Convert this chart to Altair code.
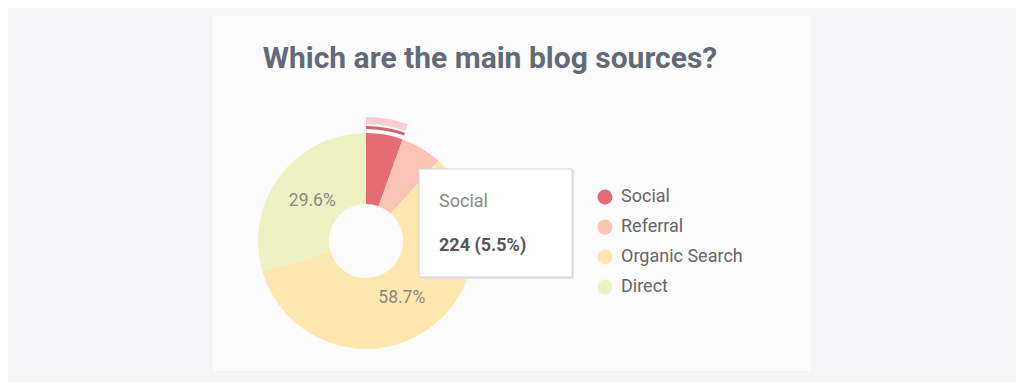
import altair as alt
import pandas as pd

# ---- data ----
categories = ["Social", "Referral", "Organic Search", "Direct"]
values = [224, 252, 2391, 1206]
order = [0, 1, 2, 3]
colors = ["#e36d72", "#fbc3b4", "#fee7ae", "#eef2c2"]
highlight = "Social"

df = pd.DataFrame({"source": categories, "value": values, "order": order})

theta_scale = alt.Scale(domain=[0, 1])

base = (
    alt.Chart(df)
    .transform_joinaggregate(total="sum(value)")
    .transform_stack(
        stack="value", groupby=[], as_=["v0", "v1"], offset="normalize",
        sort=[alt.SortField("order", order="ascending")],
    )
    .transform_calculate(
        mid="(datum.v0 + datum.v1) / 2",
        pct="datum.value / datum.total",
    )
)

# card background (decoration)
card = alt.Chart(pd.DataFrame({"k": [0]})).mark_rect(
    fill="#fcfcfd", stroke="#f1f1f3", strokeWidth=1
).encode(
    x=alt.value(-29), x2=alt.value(571), y=alt.value(-101), y2=alt.value(256)
)

arcs = base.mark_arc(innerRadius=37, outerRadius=108).encode(
    theta=alt.Theta("v0:Q", scale=theta_scale),
    theta2="v1:Q",
    color=alt.Color(
        "source:N",
        scale=alt.Scale(domain=categories, range=colors),
        sort=categories,
        legend=alt.Legend(
            title=None, orient="none", legendX=355, legendY=72,
            symbolType="circle", symbolSize=225, symbolStrokeWidth=0,
            labelFontSize=18, labelColor="#666666", labelFont="Roboto",
            labelOffset=7, rowPadding=12,
        ),
    ),
)

hl = base.transform_filter(alt.datum.source == highlight)

band = hl.mark_arc(innerRadius=117, outerRadius=124, color="#f4cfd3").encode(
    theta=alt.Theta("v0:Q", scale=theta_scale), theta2="v1:Q"
)
stripe = hl.mark_arc(innerRadius=112, outerRadius=115, color="#d9636a").encode(
    theta=alt.Theta("v0:Q", scale=theta_scale), theta2="v1:Q"
)

labels = base.transform_filter("datum.pct > 0.1").mark_text(
    radius=67, fontSize=17.5, color="#8a8a80", font="Roboto"
).encode(
    theta=alt.Theta("mid:Q", scale=theta_scale),
    text=alt.Text("pct:Q", format=".1%"),
)

# tooltip box (annotation)
box_df = pd.DataFrame({"k": [0]})
shadow = alt.Chart(box_df).mark_rect(fill="#e4e4e6").encode(
    x=alt.value(179), x2=alt.value(333), y=alt.value(54), y2=alt.value(163)
)
box = alt.Chart(box_df).mark_rect(fill="white", stroke="#d4d4d6", strokeWidth=1).encode(
    x=alt.value(178), x2=alt.value(331), y=alt.value(53), y2=alt.value(161)
)
tip_name = hl.mark_text(
    align="left", baseline="middle", fontSize=18, color="#888888", font="Roboto"
).encode(x=alt.value(198), y=alt.value(86), text="source:N")
tip_val = hl.transform_calculate(
    tip="format(datum.value, 'd') + ' (' + format(datum.pct, '.1%') + ')'"
).mark_text(
    align="left", baseline="middle", fontSize=18, fontWeight="bold",
    color="#555555", font="Roboto"
).encode(x=alt.value(198), y=alt.value(130), text="tip:N")

chart = (
    alt.layer(card, arcs, band, stripe, labels, shadow, box, tip_name, tip_val)
    .properties(
        width=250,
        height=250,
        padding={"left": 233, "top": 108, "right": 525, "bottom": 16},
        autosize=alt.AutoSizeParams(type="none"),
        background="#f6f6f8",
        title=alt.Title(
            "Which are the main blog sources?",
            fontSize=30, font="Roboto", fontWeight="bold", color="#636a77",
            anchor="middle", frame="group", dx=124, offset=-59,
        ),
    )
    .configure_view(stroke=None)
)

chart.save("out.html", embed_options={"renderer": "svg", "actions": False})
